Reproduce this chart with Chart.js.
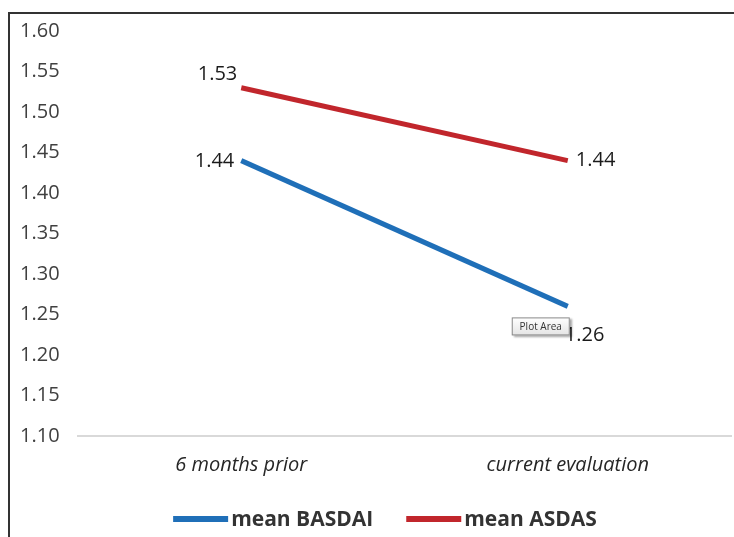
<!DOCTYPE html>
<html>
<head>
<meta charset="utf-8">
<script src="https://cdn.jsdelivr.net/npm/chart.js@4"></script>
<style>
  html, body { margin: 0; padding: 0; background: #fff; overflow: hidden; }
  #frame {
    position: absolute; left: 8px; top: 12px;
    width: 724px; height: 523px;
    border-top: 2px solid #333; border-left: 2px solid #333;
  }
  canvas { display: block; }
</style>
</head>
<body>
<div id="frame"><canvas id="myChart" width="724" height="523"></canvas></div>
<script>
// timepoints and mean scores
var categories = ['6 months prior', 'current evaluation'];
var basdai = [1.44, 1.26];
var asdas = [1.53, 1.44];
var yMin = 1.10, yMax = 1.60, yStep = 0.05;

var FONT = '"Open Sans", Lato, sans-serif';

// value labels next to each point
var valueLabels = {
  id: 'valueLabels',
  afterDatasetsDraw: function(chart) {
    var ctx = chart.ctx;
    ctx.save();
    ctx.font = '20px ' + FONT;
    ctx.fillStyle = '#1a1a1a';
    ctx.textBaseline = 'middle';
    chart.data.datasets.forEach(function(ds, di) {
      var meta = chart.getDatasetMeta(di);
      meta.data.forEach(function(pt, i) {
        var p = ds.labelPlace[i];
        ctx.textAlign = p.align;
        ctx.fillText(ds.data[i].toFixed(2), pt.x + p.dx, pt.y + p.dy);
      });
    });

    // the little "Plot Area" hover box near the last BASDAI point
    var last = chart.getDatasetMeta(0).data[1];
    var bx = last.x - 56, by = last.y + 11, bw = 58, bh = 18;
    ctx.shadowColor = 'rgba(0,0,0,0.35)';
    ctx.shadowOffsetX = 2;
    ctx.shadowOffsetY = 2;
    ctx.shadowBlur = 2;
    var g = ctx.createLinearGradient(0, by, 0, by + bh);
    g.addColorStop(0, '#ffffff');
    g.addColorStop(1, '#e4e4e4');
    ctx.fillStyle = g;
    ctx.fillRect(bx, by, bw, bh);
    ctx.shadowColor = 'transparent';
    ctx.strokeStyle = '#8a8a8a';
    ctx.lineWidth = 1;
    ctx.strokeRect(bx + 0.5, by + 0.5, bw - 1, bh - 1);
    ctx.fillStyle = '#333';
    ctx.font = '10px ' + FONT;
    ctx.textAlign = 'center';
    ctx.fillText('Plot Area', bx + bw / 2, by + bh / 2 + 0.5);
    ctx.restore();
  }
};

// legend row under the axis: thick line swatch, then the series name
var lineLegend = {
  id: 'lineLegend',
  afterDraw: function(chart) {
    var ctx = chart.ctx;
    var sw = 55, gap = 3, between = 33;
    ctx.save();
    ctx.font = 'bold 21px ' + FONT;
    ctx.textBaseline = 'middle';
    ctx.textAlign = 'left';
    var items = chart.data.datasets.map(function(ds) {
      return { text: ds.label, color: ds.borderColor, w: ctx.measureText(ds.label).width };
    });
    var total = items.reduce(function(s, it) { return s + sw + gap + it.w; }, 0) + between * (items.length - 1);
    var x = 375 - total / 2;
    var y = chart.height - 18;
    items.forEach(function(it) {
      ctx.fillStyle = it.color;
      ctx.fillRect(x, y - 3, sw, 6);
      ctx.fillStyle = '#333';
      ctx.fillText(it.text, x + sw + gap, y + 1);
      x += sw + gap + it.w + between;
    });
    ctx.restore();
  }
};

var ctx = document.getElementById('myChart').getContext('2d');
var myLineChart = new Chart(ctx, {
  type: 'line',
  data: {
    labels: categories,
    datasets: [{
      label: 'mean BASDAI',
      data: basdai,
      borderColor: '#1f6fb8',
      backgroundColor: '#1f6fb8',
      borderWidth: 5,
      pointRadius: 0,
      labelPlace: [{dx: -7, dy: 1, align: 'right'}, {dx: -3, dy: 29, align: 'left'}]
    }, {
      label: 'mean ASDAS',
      data: asdas,
      borderColor: '#c1262c',
      backgroundColor: '#c1262c',
      borderWidth: 5,
      pointRadius: 0,
      labelPlace: [{dx: -4, dy: -13, align: 'right'}, {dx: 8, dy: 0, align: 'left'}]
    }]
  },
  options: {
    responsive: false,
    animation: false,
    layout: { padding: { left: 10, right: 3, top: 17, bottom: 43 } },
    plugins: {
      tooltip: { enabled: false },
      legend: { display: false }
    },
    scales: {
      x: {
        offset: true,
        grid: { display: false, drawTicks: false },
        border: { display: true, color: '#d9d9d9', width: 2 },
        ticks: {
          font: { family: FONT, size: 20, style: 'italic' },
          color: '#262626',
          padding: 17
        }
      },
      y: {
        min: yMin,
        max: yMax,
        grid: { display: false, drawTicks: false },
        border: { display: false },
        afterFit: function(scale) { scale.width = 58; },
        ticks: {
          stepSize: yStep,
          crossAlign: 'far',
          padding: 0,
          font: { family: FONT, size: 20 },
          color: '#404040',
          callback: function(v) { return v.toFixed(2); }
        }
      }
    }
  },
  plugins: [valueLabels, lineLegend]
});
</script>
</body>
</html>
